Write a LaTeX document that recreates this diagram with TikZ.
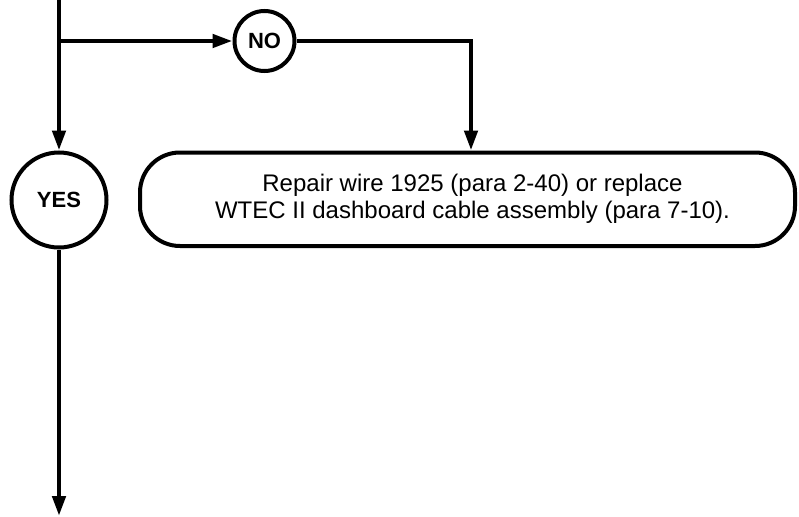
\documentclass[tikz,border=0pt]{standalone}
\usepackage{fontspec}
\setmainfont{Liberation Sans}
\usetikzlibrary{arrows.meta}
\begin{document}
\begin{tikzpicture}[x=1pt,y=-1pt,
  flow/.style={line width=4.5pt,-{Triangle[length=20pt,width=13pt]}},
  answer/.style={circle,draw,line width=4pt,inner sep=0pt,font=\fontsize{22}{26}\selectfont\bfseries},
  actionbox/.style={draw,line width=4pt,rounded corners=40pt,minimum width=655pt,minimum height=93.5pt,
    align=center,inner sep=0pt,font=\fontsize{24}{27}\selectfont}]
\useasboundingbox (0,0) rectangle (799,516);
\coordinate (top) at (59,0);
\coordinate (junc) at (59,41);
\coordinate (bend) at (471,41);
\coordinate (bot) at (59,516);
\node[answer,minimum size=60pt] (no) at (264.5,41) {NO};
\node[answer,minimum size=95pt] (yes) at (59,200) {YES};
\node[actionbox] (box) at (467.5,199.25) {\hspace*{10pt}Repair wire 1925 (para 2-40) or replace\\\hspace*{10pt}WTEC II dashboard cable assembly (para 7-10).};
\draw[flow] (top) -- (yes);
\draw[flow] (junc) -- (no);
\draw[flow] (no) -- (bend) -- (bend |- box.north);
\draw[flow] (yes) -- (bot);
\end{tikzpicture}
\end{document}
